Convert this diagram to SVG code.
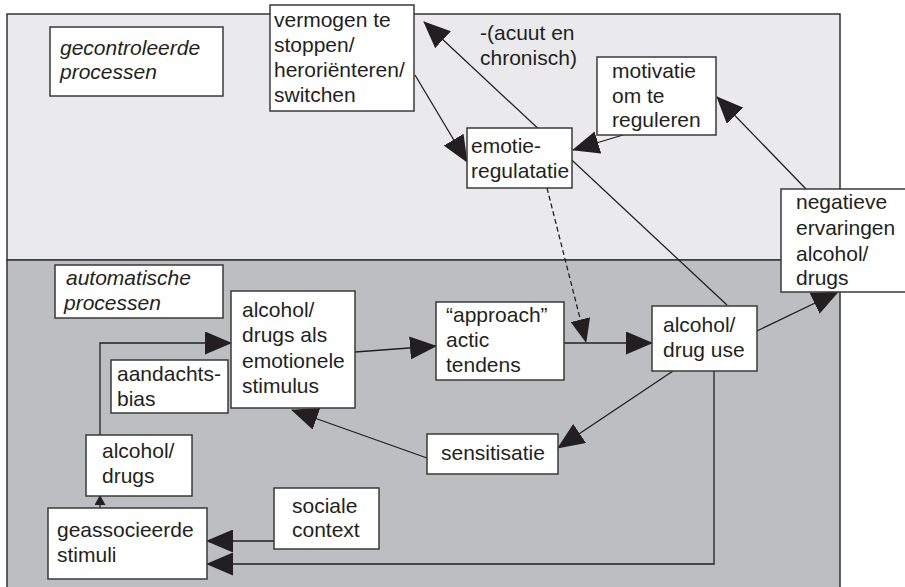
<svg xmlns="http://www.w3.org/2000/svg" width="905" height="587" viewBox="0 0 905 587">
<defs>
<style>
.box{fill:#ffffff;stroke:#3a3a3a;stroke-width:1.5}
.t{font-family:"Liberation Sans",Arial,Helvetica,sans-serif;font-size:21px;fill:#231f20}
.it{font-style:italic}
.c{fill:none;stroke:#231f20;stroke-width:1.3}
.d{stroke-dasharray:5,3}
</style>
<marker id="ah" markerUnits="userSpaceOnUse" markerWidth="27" markerHeight="23" refX="26" refY="11.5" orient="auto">
<path d="M0,0 L27,11.5 L0,23 Z" fill="#231f20"/>
</marker>
<marker id="ahm" markerUnits="userSpaceOnUse" markerWidth="24" markerHeight="20" refX="23" refY="10" orient="auto">
<path d="M0,0 L24,10 L0,20 Z" fill="#231f20"/>
</marker>
<marker id="ahs" markerUnits="userSpaceOnUse" markerWidth="10" markerHeight="11" refX="9" refY="5.5" orient="auto">
<path d="M0,0 L10,5.5 L0,11 Z" fill="#231f20"/>
</marker>
</defs>
<rect width="905" height="587" fill="#ffffff"/>
<g id="frames">
<rect x="7" y="14" width="833" height="246" fill="#eaeaec" stroke="#333" stroke-width="1.5"/>
<rect x="7" y="260" width="833" height="340" fill="#bdbec2" stroke="#333" stroke-width="1.5"/>
</g>
<g id="connectors">
<line class="c" x1="727" y1="305" x2="424" y2="22" marker-end="url(#ah)"/>
<line class="c" x1="415" y1="75" x2="467" y2="162" marker-end="url(#ah)"/>
<line class="c" x1="623" y1="135" x2="573" y2="150" marker-end="url(#ah)"/>
<line class="c" x1="806" y1="189" x2="717" y2="97" marker-end="url(#ah)"/>
<line class="c d" x1="547" y1="188" x2="586" y2="342" marker-end="url(#ahm)"/>
<line class="c" x1="564" y1="343" x2="652" y2="343" marker-end="url(#ah)"/>
<line class="c" x1="355" y1="352" x2="436" y2="346" marker-end="url(#ah)"/>
<line class="c" x1="757" y1="331" x2="838" y2="292" marker-end="url(#ah)"/>
<line class="c" x1="673" y1="371" x2="558" y2="448" marker-end="url(#ah)"/>
<line class="c" x1="427" y1="458" x2="292" y2="410" marker-end="url(#ah)"/>
<polyline class="c" points="100,435 100,343 231,343" marker-end="url(#ah)"/>
<line class="c" x1="100" y1="508" x2="100" y2="496" marker-end="url(#ahs)"/>
<line class="c" x1="274" y1="541" x2="207" y2="541" marker-end="url(#ah)"/>
<polyline class="c" points="714,371 714,564 207,564" marker-end="url(#ah)"/>
</g>
<g id="label-acuut">
<text class="t" x="480" y="40">-(acuut en</text>
<text class="t" x="480" y="65">chronisch)</text>
</g>
<g id="n-gecontroleerde">
<rect class="box" x="50" y="27" width="173" height="69"/>
<text class="t it" x="60" y="55">gecontroleerde</text>
<text class="t it" x="60" y="79">processen</text>
</g>
<g id="n-vermogen">
<rect class="box" x="270" y="5" width="144" height="106"/>
<text class="t" x="274" y="27">vermogen te</text>
<text class="t" x="274" y="52">stoppen/</text>
<text class="t" x="274" y="77">heroriënteren/</text>
<text class="t" x="274" y="102">switchen</text>
</g>
<g id="n-motivatie">
<rect class="box" x="597" y="57" width="119" height="78"/>
<text class="t" x="612" y="78">motivatie</text>
<text class="t" x="612" y="103">om te</text>
<text class="t" x="612" y="127">reguleren</text>
</g>
<g id="n-emotie">
<rect class="box" x="467" y="128" width="105" height="60"/>
<text class="t" x="471" y="153">emotie-</text>
<text class="t" x="471" y="178">regulatatie</text>
</g>
<g id="n-negatieve">
<rect class="box" x="781" y="189" width="130" height="103"/>
<text class="t" x="796" y="209">negatieve</text>
<text class="t" x="796" y="235">ervaringen</text>
<text class="t" x="796" y="261">alcohol/</text>
<text class="t" x="796" y="285">drugs</text>
</g>
<g id="n-automatische">
<rect class="box" x="55" y="265" width="168" height="53"/>
<text class="t it" x="66" y="285">automatische</text>
<text class="t it" x="64" y="310">processen</text>
</g>
<g id="n-alcstim">
<rect class="box" x="231" y="291" width="124" height="117"/>
<text class="t" x="242" y="317">alcohol/</text>
<text class="t" x="242" y="342">drugs als</text>
<text class="t" x="242" y="368">emotionele</text>
<text class="t" x="242" y="393">stimulus</text>
</g>
<g id="n-aandachts">
<rect class="box" x="111" y="360" width="117" height="53"/>
<text class="t" x="117" y="381">aandachts-</text>
<text class="t" x="117" y="406">bias</text>
</g>
<g id="n-alcdrugs">
<rect class="box" x="86" y="435" width="106" height="61"/>
<text class="t" x="102" y="458">alcohol/</text>
<text class="t" x="102" y="483">drugs</text>
</g>
<g id="n-geassoc">
<rect class="box" x="48" y="508" width="159" height="71"/>
<text class="t" x="57" y="537">geassocieerde</text>
<text class="t" x="57" y="562">stimuli</text>
</g>
<g id="n-sociale">
<rect class="box" x="274" y="488" width="105" height="61"/>
<text class="t" x="292" y="513">sociale</text>
<text class="t" x="292" y="537">context</text>
</g>
<g id="n-approach">
<rect class="box" x="436" y="302" width="128" height="78"/>
<text class="t" x="446" y="322">“approach”</text>
<text class="t" x="446" y="347">actic</text>
<text class="t" x="446" y="372">tendens</text>
</g>
<g id="n-sensitisatie">
<rect class="box" x="427" y="434" width="131" height="40"/>
<text class="t" x="441" y="460">sensitisatie</text>
</g>
<g id="n-use">
<rect class="box" x="652" y="306" width="105" height="65"/>
<text class="t" x="663" y="332">alcohol/</text>
<text class="t" x="663" y="357">drug use</text>
</g>
</svg>
